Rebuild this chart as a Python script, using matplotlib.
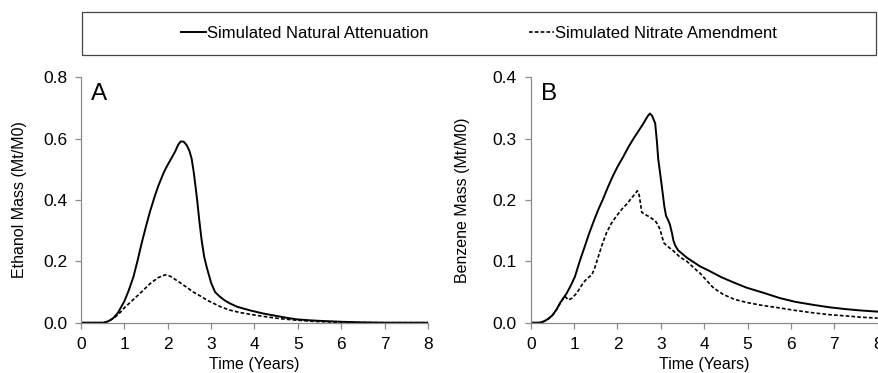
import numpy as np
import matplotlib.pyplot as plt
from matplotlib.patches import Rectangle

plt.rcParams['font.family'] = ['Liberation Sans', 'DejaVu Sans']

# Ethanol mass (Mt/M0) vs time (years)
eth_t_na = [0, 0.5, 0.55, 0.65, 0.75, 0.85, 1.0, 1.1, 1.21, 1.3, 1.4, 1.5, 1.59, 1.7, 1.78,
            1.9, 1.98, 2.08, 2.17, 2.24, 2.3, 2.37, 2.44, 2.5, 2.55, 2.6, 2.67, 2.73, 2.78,
            2.84, 2.9, 3.0, 3.09, 3.2, 3.3, 3.43, 3.6, 3.9, 4.2, 4.43, 4.7, 4.97, 5.25, 5.5,
            6.0, 6.5, 7.0, 8.0]
eth_na = [0, 0, 0.001, 0.006, 0.016, 0.032, 0.07, 0.105, 0.15, 0.2, 0.26, 0.315, 0.362, 0.412,
          0.445, 0.487, 0.51, 0.535, 0.558, 0.58, 0.591, 0.59, 0.578, 0.56, 0.535, 0.49, 0.41,
          0.33, 0.27, 0.215, 0.18, 0.13, 0.1, 0.085, 0.074, 0.063, 0.052, 0.04, 0.03, 0.024,
          0.017, 0.011, 0.008, 0.006, 0.003, 0.001, 0.0, 0.0]

eth_t_no3 = [0, 0.5, 0.6, 0.7, 0.8, 0.9, 1.01, 1.21, 1.4, 1.59, 1.78, 1.94, 2.05, 2.13, 2.36,
             2.59, 2.74, 2.9, 3.2, 3.43, 3.67, 4.0, 4.28, 4.6, 4.9, 5.4, 6.0, 7.0, 8.0]
eth_no3 = [0, 0, 0.003, 0.01, 0.02, 0.033, 0.05, 0.076, 0.101, 0.127, 0.147, 0.156, 0.152,
           0.145, 0.123, 0.1, 0.088, 0.074, 0.053, 0.041, 0.033, 0.025, 0.019, 0.013, 0.009,
           0.004, 0.001, 0.0, 0.0]

# Benzene mass (Mt/M0) vs time (years)
bz_t_na = [0, 0.2, 0.3, 0.4, 0.5, 0.6, 0.675, 0.83, 0.92, 1.02, 1.12, 1.25, 1.35, 1.44, 1.55,
           1.67, 1.78, 1.9, 2.0, 2.13, 2.25, 2.37, 2.5, 2.6, 2.7, 2.75, 2.8, 2.87, 2.91, 2.94,
           3.02, 3.08, 3.12, 3.17, 3.21, 3.26, 3.29, 3.33, 3.4, 3.5, 3.6, 3.75, 3.9, 4.13, 4.4,
           4.7, 4.98, 5.4, 5.75, 6.1, 6.52, 6.9, 7.28, 7.6, 8.0]
bz_na = [0, 0, 0.002, 0.006, 0.012, 0.022, 0.032, 0.048, 0.06, 0.075, 0.098, 0.125, 0.146,
         0.163, 0.183, 0.202, 0.221, 0.24, 0.254, 0.27, 0.286, 0.3, 0.314, 0.325, 0.337, 0.341,
         0.337, 0.325, 0.295, 0.267, 0.224, 0.19, 0.174, 0.167, 0.16, 0.145, 0.134, 0.126,
         0.118, 0.112, 0.106, 0.099, 0.092, 0.084, 0.074, 0.065, 0.057, 0.048, 0.04, 0.034,
         0.029, 0.025, 0.022, 0.02, 0.018]

bz_t_no3 = [0, 0.2, 0.3, 0.4, 0.5, 0.6, 0.7, 0.79, 0.87, 0.95, 1.06, 1.21, 1.3, 1.41, 1.48,
            1.56, 1.65, 1.75, 1.86, 1.98, 2.1, 2.21, 2.3, 2.37, 2.46, 2.5, 2.53, 2.56, 2.65,
            2.75, 2.87, 2.93, 2.98, 3.03, 3.07, 3.2, 3.29, 3.44, 3.6, 3.83, 3.9, 4.13, 4.21,
            4.44, 4.7, 4.98, 5.35, 5.75, 6.1, 6.52, 6.9, 7.28, 7.6, 8.0]
bz_no3 = [0, 0, 0.002, 0.006, 0.012, 0.022, 0.034, 0.043, 0.037, 0.04, 0.048, 0.065, 0.072,
          0.078, 0.09, 0.108, 0.128, 0.147, 0.162, 0.174, 0.185, 0.193, 0.201, 0.207, 0.215,
          0.208, 0.195, 0.18, 0.176, 0.172, 0.166, 0.16, 0.152, 0.14, 0.13, 0.122, 0.117,
          0.107, 0.1, 0.085, 0.081, 0.063, 0.057, 0.046, 0.038, 0.033, 0.028, 0.024, 0.02,
          0.016, 0.013, 0.011, 0.009, 0.0075]

labels = ["Simulated Natural Attenuation", "Simulated Nitrate Amendment"]

W, H = 879, 373
fig = plt.figure(figsize=(W / 100, H / 100), dpi=100)

axA = fig.add_axes([81 / W, 1 - 322.7 / H, 347 / W, 245.4 / H])
axB = fig.add_axes([530.7 / W, 1 - 322.7 / H, 347 / W, 245.4 / H])

spine_col = "#8a8a8a"


def style(ax, ymax, ystep, ylabel, letter, ylab_x):
    ax.set_xlim(0, 8)
    ax.set_ylim(0, ymax)
    ax.set_xticks(np.arange(0, 9, 1))
    ax.set_yticks(np.arange(0, ymax + ystep / 2, ystep))
    ax.set_yticklabels([f"{v:.1f}" for v in np.arange(0, ymax + ystep / 2, ystep)])
    for s in ["top", "right"]:
        ax.spines[s].set_visible(False)
    for s in ["left", "bottom"]:
        ax.spines[s].set_color(spine_col)
        ax.spines[s].set_linewidth(0.9)
    ax.tick_params(axis="both", direction="out", length=4, width=0.9,
                   color=spine_col, labelsize=12.5, labelcolor="black")
    ax.tick_params(axis="x", pad=6)
    ax.tick_params(axis="y", pad=6)
    ax.set_xlabel("Time (Years)", fontsize=11.5)
    ax.xaxis.set_label_coords(0.5, -0.14)
    ax.xaxis.label.set_va("top")
    ax.set_ylabel(ylabel, fontsize=11.5)
    ax.yaxis.set_label_coords(ylab_x, 0.5)
    ax.text(0.03, 0.975, letter, transform=ax.transAxes, fontsize=17.5,
            ha="left", va="top")
    for lab in ax.get_xticklabels():
        lab.set_clip_on(False)


axA.plot(eth_t_na, eth_na, color="black", lw=1.4, label=labels[0])
axA.plot(eth_t_no3, eth_no3, color="black", lw=1.2, ls=(0, (2.2, 1.3)), label=labels[1])
style(axA, 0.8, 0.2, "Ethanol Mass (Mt/M0)", "A", -0.155)

axB.plot(bz_t_na, bz_na, color="black", lw=1.4)
axB.plot(bz_t_no3, bz_no3, color="black", lw=1.2, ls=(0, (2.2, 1.3)))
style(axB, 0.4, 0.1, "Benzene Mass (Mt/M0)", "B", -0.175)

# legend box across the top
fig.add_artist(Rectangle((82 / W, 1 - 55 / H), 794 / W, 43 / H, transform=fig.transFigure,
                         fill=False, edgecolor="#444444", lw=0.9))
handles, _ = axA.get_legend_handles_labels()
fig.legend(handles, labels, loc="center", bbox_to_anchor=(479 / W, 1 - 33.3 / H),
           ncol=2, frameon=False, fontsize=12, handlelength=1.5, handletextpad=0.05,
           columnspacing=6.0)

fig.savefig("out.png", dpi=100)
